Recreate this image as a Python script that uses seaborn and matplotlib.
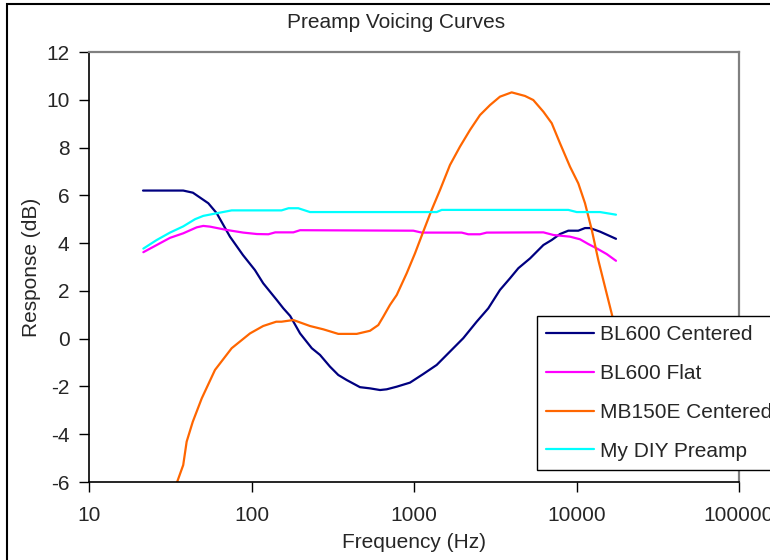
import matplotlib
matplotlib.use('Agg')
import matplotlib.pyplot as plt
import seaborn as sns
import pandas as pd
from matplotlib.patches import Rectangle
from matplotlib.ticker import FixedLocator, FixedFormatter, NullLocator

sns.set_style('white')
plt.rcParams['font.family'] = ['Liberation Sans', 'DejaVu Sans']

# values (Hz, dB)
bl600_centered_hz = [21.5, 38, 43.6, 54.2, 61.1, 73.7, 88.6, 105, 118, 143, 157, 173, 199, 235,
                     264, 304, 342, 385, 465, 536, 618, 679, 783, 945, 1140, 1379, 1665, 2010,
                     2430, 2865, 3381, 3900, 4387, 5178, 6255, 7038, 7914, 8905, 10260, 11280,
                     12100, 13960, 17500]
bl600_centered_db = [6.2, 6.2, 6.11, 5.67, 5.25, 4.27, 3.5, 2.87, 2.32, 1.62, 1.27, 0.95, 0.22, -0.4,
                     -0.68, -1.17, -1.52, -1.73, -2.03, -2.08, -2.15, -2.12, -2.01, -1.84, -1.48,
                     -1.1, -0.54, 0.02, 0.71, 1.27, 2.04, 2.53, 2.95, 3.36, 3.92, 4.13, 4.38, 4.52,
                     4.52, 4.63, 4.63, 4.48, 4.18]

bl600_flat_hz = [21.6, 26.1, 31.5, 38.0, 46.0, 50.5, 55.5, 70.4, 89.0, 108, 127, 140, 181, 199,
                 990, 1115, 1966, 2158, 2547, 2800, 6255, 7211, 9120, 10510, 11830, 13310,
                 15350, 17500]
bl600_flat_db = [3.62, 3.92, 4.22, 4.41, 4.66, 4.72, 4.69, 4.55, 4.44, 4.38, 4.37, 4.45, 4.45,
                 4.54, 4.52, 4.44, 4.44, 4.37, 4.37, 4.44, 4.45, 4.34, 4.27, 4.16, 3.96, 3.78,
                 3.54, 3.26]

mb150e_hz = [31.5, 34.9, 38.0, 39.9, 43.5, 49.4, 59.6, 75.5, 97.9, 118, 142, 153, 181, 229,
             277, 342, 444, 536, 603, 647, 711, 783, 902, 1014, 1140, 1284, 1445, 1665, 1919,
             2213, 2547, 2938, 3381, 3990, 4819, 5420, 6255, 7038, 7914, 9120, 10260, 11280,
             12420, 13620, 14960, 16450, 17500]
mb150e_db = [-7.0, -5.99, -5.29, -4.31, -3.48, -2.5, -1.31, -0.4, 0.22, 0.53, 0.71, 0.71, 0.78,
             0.53, 0.39, 0.2, 0.2, 0.33, 0.57, 0.92, 1.41, 1.83, 2.74, 3.57, 4.48, 5.39, 6.22,
             7.27, 8.04, 8.74, 9.36, 9.78, 10.13, 10.31, 10.16, 9.99, 9.5, 9.02, 8.18, 7.2,
             6.5, 5.67, 4.55, 3.29, 2.18, 1.06, 0.3]

diy_hz = [21.6, 26.1, 31.5, 38.0, 44.9, 50.5, 61.1, 75.5, 153, 169, 194, 229, 1379, 1481,
          8905, 10030, 13960, 17500]
diy_db = [3.77, 4.13, 4.44, 4.7, 5.0, 5.14, 5.25, 5.37, 5.37, 5.46, 5.46, 5.3, 5.3, 5.39,
          5.39, 5.3, 5.3, 5.19]

series_names = ['BL600 Centered', 'BL600 Flat', 'MB150E Centered', 'My DIY Preamp']
series_colors = ['#000080', '#FF00FF', '#FF6600', '#00FFFF']
x_ticks = [10, 100, 1000, 10000, 100000]
x_tick_labels = ['10', '100', '1000', '10000', '100000']
y_ticks = [-6, -4, -2, 0, 2, 4, 6, 8, 10, 12]

frames = []
for name, hz, db in zip(series_names,
                        [bl600_centered_hz, bl600_flat_hz, mb150e_hz, diy_hz],
                        [bl600_centered_db, bl600_flat_db, mb150e_db, diy_db]):
    frames.append(pd.DataFrame({'freq': hz, 'db': db, 'series': name}))
df = pd.concat(frames, ignore_index=True)

fig = plt.figure(figsize=(7.7, 5.6), dpi=100)
ax = fig.add_axes([89 / 770, 78 / 560, 650 / 770, 430 / 560])

sns.lineplot(data=df, x='freq', y='db', hue='series', hue_order=series_names,
             palette=dict(zip(series_names, series_colors)), sort=False,
             estimator=None, linewidth=1.6, ax=ax)

ax.set_xscale('log')
ax.set_xlim(10, 100000)
ax.set_ylim(-6, 12)
ax.xaxis.set_major_locator(FixedLocator(x_ticks))
ax.xaxis.set_major_formatter(FixedFormatter(x_tick_labels))
ax.xaxis.set_minor_locator(NullLocator())
ax.set_yticks(y_ticks)
ax.set_yticklabels([str(v) for v in y_ticks])
ax.tick_params(axis='both', direction='out', length=7, width=1, color='black',
               labelsize=15, left=True, bottom=True)
ax.tick_params(axis='y', pad=7)
ax.tick_params(axis='x', pad=10)

for side in ['left', 'bottom']:
    ax.spines[side].set_color('black')
    ax.spines[side].set_linewidth(1.2)
for side in ['top', 'right']:
    ax.spines[side].set_color('#808080')
    ax.spines[side].set_linewidth(1.6)

ax.set_xlabel('Frequency (Hz)', fontsize=15, labelpad=6)
ax.set_ylabel('Response (dB)', fontsize=15, labelpad=4)
fig.text(396 / 770, 1 - 23 / 560, 'Preamp Voicing Curves', fontsize=15,
         ha='center', va='center')

handles, labels = ax.get_legend_handles_labels()
leg = ax.legend(handles, labels, loc='upper left',
                bbox_to_anchor=(537 / 770, 1 - 316 / 560), bbox_transform=fig.transFigure,
                fontsize=15, frameon=True, fancybox=False, framealpha=1,
                edgecolor='black', handlelength=2.3, handletextpad=0.25,
                labelspacing=0.95, borderpad=0.45, borderaxespad=0)
leg.get_frame().set_linewidth(1.0)

# outer chart border, cut off at the right and bottom like the reference
fig.add_artist(Rectangle((7 / 770, -0.1), 1.2, 1.1 - 4 / 560, transform=fig.transFigure,
                         fill=False, edgecolor='black', linewidth=1.5, clip_on=False))

fig.savefig('out.png', dpi=100)
